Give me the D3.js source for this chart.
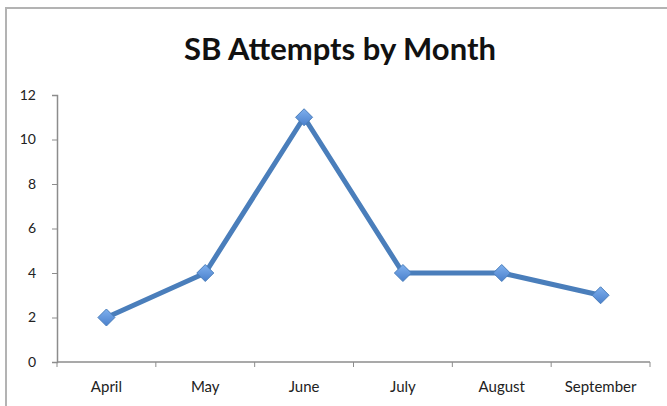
<!DOCTYPE html>
<html><head><meta charset="utf-8">
<script src="https://cdn.jsdelivr.net/npm/d3@7"></script>
<style>html,body{margin:0;padding:0;background:#fff;}svg{display:block;}</style>
</head><body>
<script>
const months = ["April","May","June","July","August","September"];
const attempts = [2,4,11,4,4,3];
const yTicks = [0,2,4,6,8,10,12];
const title = "SB Attempts by Month";

const W = 667, H = 406;
const svg = d3.select("body").append("svg").attr("width", W).attr("height", H);
const font = "Lato, 'Open Sans', sans-serif";

svg.append("rect").attr("x", 6).attr("y", 8).attr("width", 680).attr("height", 420)
  .attr("fill", "#fff").attr("stroke", "#b3b3b3").attr("stroke-width", 2);

const defs = svg.append("defs");
const g1 = defs.append("linearGradient").attr("id","mk").attr("x1","0").attr("y1","0").attr("x2","0").attr("y2","1");
g1.append("stop").attr("offset","0").attr("stop-color","#7fb0ee");
g1.append("stop").attr("offset","1").attr("stop-color","#4a80cc");

svg.append("text").attr("x", 340).attr("y", 60).attr("text-anchor","middle")
  .attr("font-family", font).attr("font-weight","bold").attr("font-size", 31).attr("fill","#111")
  .text(title);

const pL = 57, pR = 650, pT = 95, pB = 362;
const x = d3.scaleBand().domain(months).range([pL, pR]);
const y = d3.scaleLinear().domain([0,12]).range([pB, pT]);

const yAxis = svg.append("g").attr("transform", `translate(${pL},0)`)
  .call(d3.axisLeft(y).tickValues(yTicks).tickSize(5).tickPadding(16));
const xAxis = svg.append("g").attr("transform", `translate(0,${pB})`)
  .call(d3.axisBottom(x).tickSize(0).tickPadding(19));
xAxis.selectAll(".bt").data(months.concat(["_end"])).enter().append("line")
  .attr("x1", (d,i)=> i < months.length ? x(d) : pR)
  .attr("x2", (d,i)=> i < months.length ? x(d) : pR)
  .attr("y1", 0).attr("y2", 5).attr("stroke","#8c8c8c");

[yAxis, xAxis].forEach(a => {
  a.selectAll(".domain").attr("stroke","#8c8c8c").attr("stroke-width",1.5);
  a.selectAll(".tick line").attr("stroke","#8c8c8c");
  a.selectAll("text").attr("font-family", font).attr("fill","#222");
});
yAxis.selectAll("text").attr("font-size", 14);
xAxis.selectAll("text").attr("font-size", 15);
xAxis.select(".domain").attr("d", `M${pL},0H${pR}`);

const pts = months.map((m,i)=>({m, v: attempts[i]}));
const line = d3.line().x(d => x(d.m) + x.bandwidth()/2).y(d => y(d.v));
svg.append("path").datum(pts).attr("d", line).attr("fill","none")
  .attr("stroke","#4a7ebb").attr("stroke-width",5).attr("stroke-linejoin","round");

svg.selectAll(".mk").data(pts).enter().append("path")
  .attr("transform", d => `translate(${x(d.m)+x.bandwidth()/2},${y(d.v)})`)
  .attr("d", "M0,-8.5L8.5,0L0,8.5L-8.5,0Z")
  .attr("fill","url(#mk)").attr("stroke","#4a7ebb").attr("stroke-width",1);
</script>
</body></html>
